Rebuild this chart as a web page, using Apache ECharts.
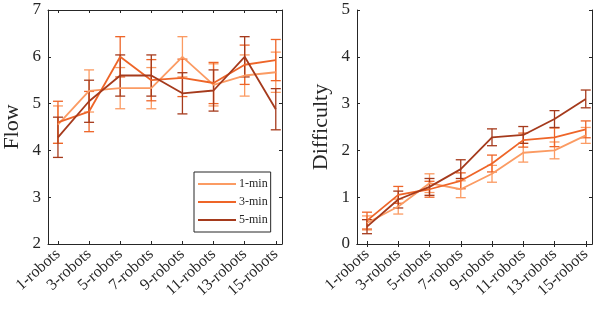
<!DOCTYPE html>
<html><head><meta charset="utf-8">
<script src="https://cdn.jsdelivr.net/npm/echarts@6/dist/echarts.min.js"></script>
<style>html,body{margin:0;padding:0;background:#fff}#c{width:598px;height:312px}</style>
</head><body><div id="c"></div>
<script>
const categories = ['1-robots','3-robots','5-robots','7-robots','9-robots','11-robots','13-robots','15-robots'];
const seriesNames = ['1-min','3-min','5-min'];
const flow1 = [4.55,5.27,5.33,5.33,6.00,5.40,5.60,5.67];
const flow1Err = [0.40,0.45,0.44,0.44,0.43,0.45,0.44,0.43];
const flow3 = [4.60,4.83,6.00,5.50,5.55,5.44,5.83,5.93];
const flow3Err = [0.45,0.43,0.43,0.44,0.40,0.44,0.42,0.44];
const flow5 = [4.28,5.05,5.60,5.60,5.22,5.28,6.00,4.88];
const flow5Err = [0.43,0.45,0.44,0.44,0.44,0.44,0.43,0.44];
const diff1 = [0.45,0.80,1.30,1.17,1.50,1.95,2.00,2.32];
const diff1Err = [0.15,0.16,0.20,0.18,0.18,0.20,0.18,0.17];
const diff3 = [0.50,1.05,1.17,1.35,1.72,2.22,2.28,2.45];
const diff3Err = [0.18,0.18,0.17,0.17,0.18,0.15,0.20,0.18];
const diff5 = [0.37,0.95,1.22,1.60,2.28,2.33,2.67,3.10];
const diff5Err = [0.15,0.18,0.18,0.20,0.18,0.18,0.18,0.19];
const flowTicks = [2,3,4,5,6,7];
const diffTicks = [0,1,2,3,4,5];

const colors = ['#FB9B63','#EE6528','#A53A1C'];
const txt = '#262626';
const font = 'Liberation Serif';
const xPos = categories.map((c,i)=>i+1);

function xAxes(gi){
  return [{
    gridIndex: gi, type:'value', min:0.68, max:8.2, position:'bottom',
    axisLine:{show:true,lineStyle:{color:txt,width:1}},
    axisTick:{show:true,inside:true,length:3,customValues:xPos,lineStyle:{color:txt}},
    axisLabel:{show:true,customValues:xPos,rotate:42,margin:8,color:txt,fontFamily:font,fontSize:16,
      formatter:v=>categories[Math.round(v)-1]||''},
    splitLine:{show:false}
  },{
    gridIndex: gi, type:'value', min:0.68, max:8.2, position:'top',
    axisLine:{show:true,lineStyle:{color:txt,width:1}},
    axisTick:{show:true,inside:true,length:3,customValues:xPos,lineStyle:{color:txt}},
    axisLabel:{show:false}, splitLine:{show:false}
  }];
}
function yAxes(gi,min,max,name,ticks){
  return [{
    gridIndex: gi, type:'value', min:min, max:max, interval:1, position:'left',
    name:name, nameLocation:'middle', nameGap:25, nameRotate:90,
    nameTextStyle:{color:txt,fontFamily:font,fontSize:22},
    axisLine:{show:true,lineStyle:{color:txt,width:1}},
    axisTick:{show:true,inside:true,length:3,lineStyle:{color:txt}},
    axisLabel:{color:txt,fontFamily:font,fontSize:17,margin:7,
      formatter:v=>ticks.includes(v)?String(v):''},
    splitLine:{show:false}
  },{
    gridIndex: gi, type:'value', min:min, max:max, interval:1, position:'right',
    axisLine:{show:true,lineStyle:{color:txt,width:1}},
    axisTick:{show:true,inside:true,length:3,lineStyle:{color:txt}},
    axisLabel:{show:false}, splitLine:{show:false}
  }];
}
function lineSeries(name,vals,ci,gi){
  return {name:name,type:'line',xAxisIndex:gi*2,yAxisIndex:gi*2,
    data:vals.map((v,i)=>[xPos[i],v]),symbol:'none',
    lineStyle:{color:colors[ci],width:1.8},itemStyle:{color:colors[ci]},z:3};
}
function errSeries(name,vals,errs,ci,gi){
  return {name:name+' err',type:'custom',xAxisIndex:gi*2,yAxisIndex:gi*2,
    data:vals.map((v,i)=>[xPos[i],v-errs[i],v+errs[i]]),
    renderItem:(params,api)=>{
      const lo=api.coord([api.value(0),api.value(1)]);
      const hi=api.coord([api.value(0),api.value(2)]);
      const w=5;
      const st={stroke:colors[ci],lineWidth:1.3,fill:null};
      return {type:'group',children:[
        {type:'line',shape:{x1:lo[0],y1:lo[1],x2:hi[0],y2:hi[1]},style:st},
        {type:'line',shape:{x1:lo[0]-w,y1:lo[1],x2:lo[0]+w,y2:lo[1]},style:st},
        {type:'line',shape:{x1:hi[0]-w,y1:hi[1],x2:hi[0]+w,y2:hi[1]},style:st}
      ]};
    },z:2};
}

const chart = echarts.init(document.getElementById('c'),null,{renderer:'canvas'});
chart.setOption({
  animation:false,
  backgroundColor:'#fff',
  grid:[{left:48,top:10,width:234,height:234},{left:357,top:10,width:235,height:234}],
  xAxis:[...xAxes(0),...xAxes(1)],
  yAxis:[...yAxes(0,2,7,'Flow',flowTicks),...yAxes(1,0,5,'Difficulty',diffTicks)],
  legend:{data:seriesNames.map(n=>({name:n,icon:'rect'})),orient:'vertical',left:194,top:172,
    itemWidth:38,itemHeight:2,itemGap:4,padding:[5,3,5,4],
    backgroundColor:'#fff',borderColor:txt,borderWidth:1,borderRadius:0,
    textStyle:{color:txt,fontFamily:font,fontSize:12,lineHeight:14,padding:[0,0,0,-2]}},
  series:[
    errSeries('1-min',flow1,flow1Err,0,0),
    errSeries('3-min',flow3,flow3Err,1,0),
    errSeries('5-min',flow5,flow5Err,2,0),
    lineSeries('1-min',flow1,0,0),
    lineSeries('3-min',flow3,1,0),
    lineSeries('5-min',flow5,2,0),
    errSeries('1-min',diff1,diff1Err,0,1),
    errSeries('3-min',diff3,diff3Err,1,1),
    errSeries('5-min',diff5,diff5Err,2,1),
    lineSeries('1-min',diff1,0,1),
    lineSeries('3-min',diff3,1,1),
    lineSeries('5-min',diff5,2,1)
  ]
});
</script></body></html>
